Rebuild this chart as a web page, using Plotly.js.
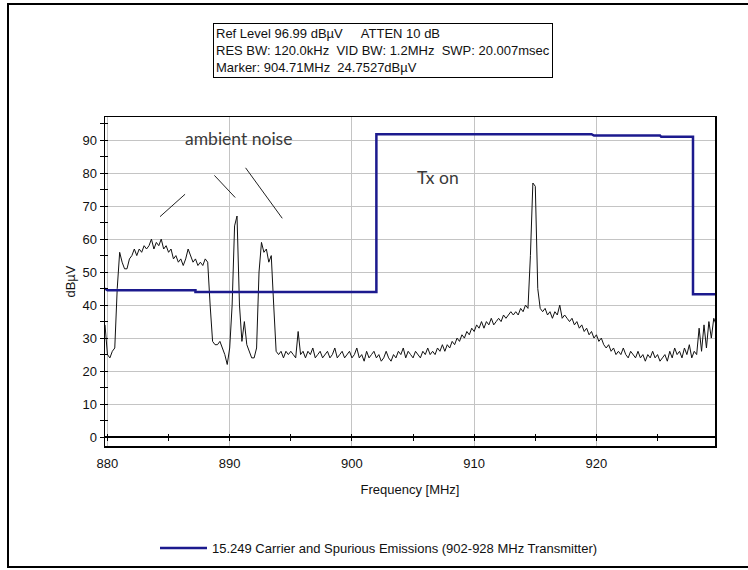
<!DOCTYPE html>
<html>
<head>
<meta charset="utf-8">
<script src="https://cdn.plot.ly/plotly-3.0.1.min.js"></script>
<style>html,body{margin:0;padding:0;background:#fff;}#chart{width:748px;height:570px;}</style>
</head>
<body>
<div id="chart"></div>
<script>
// ---- data ----
// spectrum sweep: first point at 879.8 MHz, one point every 0.2 MHz
var sweepStart = 879.8;
var sweepStep = 0.2;
var spectrumA = [34,
  25,24,26,27,45, 56,53,51,51,54, 55,57,55,57,56, 58,57,58,60,57, 59,58,60,57,58,
  56,57,54,55,53, 54,52,54,57,55, 53,54,52,53,52, 54,53,40,29,28, 28,29,27,25,22];
var spectrumB = [27,40,64,67,40, 29,35,28,26,24, 24,27,50,59,56, 57,53,55,40,26, 25,26,24,26,25,
  26,25,24,32,25, 26,24,26,25,27, 24,25,26,24,25, 26,24,25,27,24, 25,26,24,25,26];
var spectrumC = [24,25,27,24,25, 23,26,24,25,26, 24,25,23,24,26, 24,23,25,24,26, 25,27,24,26,25,
  24,26,25,24,26, 25,27,25,26,25, 27,26,28,26,28, 27,29,28,30,29, 31,30,32,31,33];
var spectrumD = [32,34,33,35,33, 35,34,36,34,35, 36,35,37,36,37, 38,37,38,37,39, 38,40,39,55,77,
  76,45,39,38,39, 37,38,36,38,37, 40,36,37,36,35, 36,34,35,33,34, 32,33,31,32,30];
var spectrumE = [31,29,30,28,27, 28,26,27,25,26, 25,27,25,24,26, 25,24,26,24,25, 23,25,24,26,24,
  25,23,24,25,23, 26,24,27,25,26, 24,27,25,28,24, 26,25,33,26,34, 27,35,30,36,34];

// limit line (15.249 carrier and spurious emissions)
var limitFreq  = [879.8, 880.0, 887.2, 887.2, 902.0, 902.0, 919.6, 919.8, 925.2, 925.3, 927.9, 927.9, 929.7];
var limitLevel = [45.0,  44.5,  44.5,  44.0,  44.0,  91.8,  91.8,  91.4,  91.4,  91.0,  91.0,  43.3,  43.3];
var limitName = '15.249 Carrier and Spurious Emissions (902-928 MHz Transmitter)';

// axes
var xRange = [879.8, 929.7];
var yRange = [-2.7, 97];
var xTickStep = 10, xMinorStep = 5;
var yTickStep = 10, yMinorStep = 5;
var xTitle = 'Frequency [MHz]';
var yTitle = 'dBµV';

// text
var headerLines = [
  'Ref Level 96.99 dBµV\u00a0\u00a0\u00a0\u00a0\u00a0ATTEN 10 dB',
  'RES BW: 120.0kHz\u00a0\u00a0VID BW: 1.2MHz\u00a0\u00a0SWP: 20.007msec',
  'Marker: 904.71MHz\u00a0\u00a024.7527dBµV'
];
var noteAmbient = {text: 'ambient noise', f: 890.7, v: 90.6};
var noteTx = {text: 'Tx on', f: 907.0, v: 78.8};
// pointer strokes from the "ambient noise" note: [f0, v0, f1, v1]
var pointerStrokes = [
  [884.3, 66.8, 886.35, 73.6],
  [888.75, 79.3, 890.45, 72.6],
  [891.3, 81.6, 894.3, 66.3]
];

// ---- build ----
var spectrum = spectrumA.concat(spectrumB, spectrumC, spectrumD, spectrumE);
var AX_FONT = 'Liberation Sans, Arial, sans-serif';
var NOTE_FONT = 'Lato, Open Sans, sans-serif';
var W = 748, H = 570, M = {l:105, r:33, t:117, b:124};
var pw = W - M.l - M.r, ph = H - M.t - M.b;
function px(x){ return (x - M.l) / pw; }
function py(y){ return (H - M.b - y) / ph; }
var zeroPos = (0 - yRange[0]) / (yRange[1] - yRange[0]);

var traces = [
  {type:'scatter', mode:'lines', x0: sweepStart, dx: sweepStep, y: spectrum,
   line:{color:'#111', width:1}, showlegend:false, hoverinfo:'skip'},
  {type:'scatter', mode:'lines', x: limitFreq, y: limitLevel, name: limitName,
   line:{color:'#1c1a8e', width:2.5}, showlegend:true},
  // empty carriers so the tick-only overlay axes get drawn
  {type:'scatter', mode:'lines', x:[], y:[], xaxis:'x2', yaxis:'y', showlegend:false, hoverinfo:'skip'},
  {type:'scatter', mode:'lines', x:[], y:[], xaxis:'x3', yaxis:'y', showlegend:false, hoverinfo:'skip'},
  {type:'scatter', mode:'lines', x:[], y:[], xaxis:'x', yaxis:'y2', showlegend:false, hoverinfo:'skip'}
];

var shapes = pointerStrokes.map(function(s){
  return {type:'line', xref:'x', yref:'y', x0:s[0], y0:s[1], x1:s[2], y1:s[3],
          line:{color:'#222', width:1}};
});
// outer frame
shapes.push({type:'rect', xref:'paper', yref:'paper', x0:px(8), x1:px(760), y0:py(567), y1:py(4),
             line:{color:'#000', width:2}, fillcolor:'rgba(0,0,0,0)', layer:'below'});

var tickCommon = {range: xRange, showgrid:false, zeroline:false, showticklabels:false, automargin:false,
                  tickcolor:'#000', tickwidth:1, dtick: xMinorStep, tick0: 880, showline:false};

var layout = {
  width: W, height: H,
  margin: {l:M.l, r:M.r, t:M.t, b:M.b, pad:0, autoexpand:false},
  paper_bgcolor:'#fff', plot_bgcolor:'#fff',
  font: {family: AX_FONT, size: 13, color:'#111'},
  showlegend: true,
  legend: {orientation:'h', x: px(155), xanchor:'left', y: py(548), yanchor:'middle', itemwidth: 47,
           font:{family: AX_FONT, size:13, color:'#111'}, bgcolor:'rgba(0,0,0,0)'},
  xaxis: {range: xRange, dtick: xTickStep, tick0: 880, showgrid:true, gridcolor:'#c4c4c4', gridwidth:1,
          zeroline:false, ticks:'', showline:true, mirror:true, linecolor:'#000', linewidth:1.5,
          ticklabelstandoff: 5, automargin:false,
          tickfont:{family: AX_FONT, size:13, color:'#111'},
          title:{text: xTitle, font:{family: AX_FONT, size:13, color:'#111'}, standoff: 15}},
  yaxis: {range: yRange, dtick: yTickStep, tick0: 0, showgrid:true, gridcolor:'#c4c4c4', gridwidth:1,
          zeroline:true, zerolinecolor:'#000', zerolinewidth:1.5, automargin:false,
          ticks:'outside', ticklen:4, tickcolor:'#000', tickwidth:1,
          minor:{dtick: yMinorStep, tick0:0, ticks:'outside', ticklen:4, tickcolor:'#000', showgrid:false},
          showline:true, mirror:true, linecolor:'#000', linewidth:1.5,
          tickfont:{family: AX_FONT, size:13, color:'#111'},
          title:{text: yTitle, font:{family: AX_FONT, size:13, color:'#111'}, standoff: 4}},
  yaxis2: {range: yRange, overlaying:'y', side:'left', anchor:'x', dtick: yMinorStep, tick0:0, automargin:false,
           ticks:'inside', ticklen:3, tickcolor:'#000', showticklabels:false, showgrid:false,
           zeroline:false, showline:false},
  xaxis2: Object.assign({}, tickCommon, {overlaying:'x', anchor:'free', position: zeroPos, ticks:'outside', ticklen:3}),
  xaxis3: Object.assign({}, tickCommon, {overlaying:'x', anchor:'free', position: zeroPos, ticks:'inside', ticklen:3}),
  shapes: shapes,
  annotations: [
    {xref:'paper', yref:'paper', x: px(383), y: py(23), xanchor:'center', yanchor:'top',
     text: headerLines.join('<br>'), align:'left', showarrow:false,
     bordercolor:'#000', borderwidth:1, borderpad:2, bgcolor:'#fff',
     font:{family: AX_FONT, size:13, color:'#111'}},
    {xref:'x', yref:'y', x: noteAmbient.f, y: noteAmbient.v, text: noteAmbient.text, showarrow:false,
     font:{family: NOTE_FONT, size:17.5, color:'#3a3a3a'}},
    {xref:'x', yref:'y', x: noteTx.f, y: noteTx.v, text: noteTx.text, showarrow:false,
     font:{family: NOTE_FONT, size:17.5, color:'#3a3a3a'}}
  ]
};

Plotly.newPlot('chart', traces, layout, {displayModeBar:false, staticPlot:true});
</script>
</body>
</html>
